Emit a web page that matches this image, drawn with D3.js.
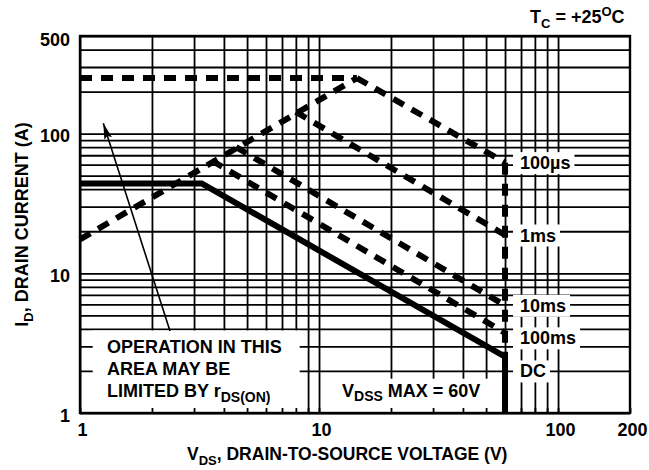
<!DOCTYPE html>
<html>
<head>
<meta charset="utf-8">
<script src="https://cdn.jsdelivr.net/npm/d3@7"></script>
<style>
  body { margin: 0; background: #fff; }
  svg text { font-family: "Liberation Sans", Arial, Helvetica, sans-serif; font-weight: bold; fill: #000; }
</style>
</head>
<body>
<svg id="chart" width="649" height="470"></svg>
<script>
// tick labels
const xTickLabels = [1, 10, 100, 200];
const yTickLabels = [1, 10, 100, 500];

// safe operating area boundaries (volts, amps)
const rdsV = [1, 14.4], rdsI = [17.5, 250];
const idmV = [1, 14.4], idmI = [250, 250];
const us100V = [14.4, 60], us100I = [250, 62];
const ms1V = [8.0, 60], ms1I = [143, 18.8];
const ms10V = [4.5, 60], ms10I = [80, 5.9];
const ms100V = [3.56, 60], ms100I = [64, 3.75];
const vdssV = [60, 60], vdssI = [62, 2.53];
const dcV = [1, 3.23, 60, 60], dcI = [44, 44, 2.53, 1];

const curveNames = ['100\u00b5s', '1ms', '10ms', '100ms', 'DC'];
const curveLabelI = [62, 18.8, 5.9, 3.45, 2.0];

const margin = { top: 36, right: 19, bottom: 57, left: 80 },
  width = 649 - margin.left - margin.right,
  height = 470 - margin.top - margin.bottom;

const x = d3.scaleLog().domain([1, 200]).range([0, width]);
const y = d3.scaleLog().domain([1, 500]).range([height, 0]);

const svg = d3.select('#chart')
  .append('g')
  .attr('transform', 'translate(' + margin.left + ',' + margin.top + ')');

// grid
svg.append('g')
  .attr('transform', 'translate(0,' + height + ')')
  .call(d3.axisBottom(x).tickValues(x.ticks().filter(d => d <= 100)).tickSize(-height).tickFormat(''))
  .call(g => g.select('.domain').remove())
  .selectAll('line').attr('stroke', '#000').attr('stroke-width', 1.8);

svg.append('g')
  .call(d3.axisLeft(y).tickValues(y.ticks()).tickSize(-width).tickFormat(''))
  .call(g => g.select('.domain').remove())
  .selectAll('line').attr('stroke', '#000').attr('stroke-width', 1.8);

// white boxes that hide the grid
const boxes = svg.append('g');
boxes.append('rect')
  .attr('x', x(1.13)).attr('y', y(3.9))
  .attr('width', x(8.3) - x(1.13)).attr('height', y(1) - y(3.9))
  .attr('fill', '#fff');
boxes.append('rect')
  .attr('x', x(10.3)).attr('y', y(1.76))
  .attr('width', x(59) - x(10.3)).attr('height', y(1) - y(1.76))
  .attr('fill', '#fff');

// minor ticks along the bottom, visible inside the boxes
svg.append('g')
  .attr('transform', 'translate(0,' + height + ')')
  .call(d3.axisBottom(x).tickValues(x.ticks()).tickSize(-5).tickFormat(''))
  .call(g => g.select('.domain').remove())
  .selectAll('line').attr('stroke', '#000').attr('stroke-width', 1.8);

// frame
svg.append('rect')
  .attr('width', width).attr('height', height)
  .attr('fill', 'none').attr('stroke', '#000').attr('stroke-width', 2.4);

// boundary lines
const line = d3.line().x(d => x(d[0])).y(d => y(d[1]));
const pts = (vs, is) => vs.map((v, i) => [v, is[i]]);

const dashed = [
  pts(rdsV, rdsI), pts(idmV, idmI), pts(us100V, us100I),
  pts(ms1V, ms1I), pts(ms10V, ms10I), pts(ms100V, ms100I), pts(vdssV, vdssI)
];
svg.append('g').selectAll('path')
  .data(dashed)
  .join('path')
  .attr('d', line)
  .attr('fill', 'none')
  .attr('stroke', '#000')
  .attr('stroke-width', 6)
  .attr('stroke-dasharray', '12,9');

svg.append('path')
  .datum(pts(dcV, dcI))
  .attr('d', line)
  .attr('fill', 'none')
  .attr('stroke', '#000')
  .attr('stroke-width', 6)
  .attr('stroke-linejoin', 'miter');

// curve labels on white patches
const labels = svg.append('g');
curveNames.forEach((name, i) => {
  const t = labels.append('text')
    .attr('x', x(60) + 15)
    .attr('y', y(curveLabelI[i]))
    .attr('dy', '0.36em')
    .attr('font-size', 18)
    .text(name);
  const b = t.node().getBBox();
  labels.insert('rect', 'text')
    .attr('x', b.x - 7).attr('y', b.y - 1)
    .attr('width', b.width + 11).attr('height', b.height + 2)
    .attr('fill', '#fff');
});

// note box text
const note = svg.append('text').attr('font-size', 18);
note.append('tspan').attr('x', 27).attr('y', 317).text('OPERATION IN THIS');
note.append('tspan').attr('x', 27).attr('y', 339).text('AREA MAY BE');
const l3 = note.append('tspan').attr('x', 27).attr('y', 361).text('LIMITED BY r');
note.append('tspan').attr('dy', 5).attr('font-size', 14).text('DS(ON)');

// arrow
svg.append('defs').append('marker')
  .attr('id', 'head')
  .attr('markerUnits', 'userSpaceOnUse')
  .attr('viewBox', '0 0 16 8')
  .attr('refX', 16).attr('refY', 4)
  .attr('markerWidth', 16).attr('markerHeight', 8)
  .attr('orient', 'auto')
  .append('path')
  .attr('d', 'M0,0 L16,4 L0,8 L3,4 Z')
  .attr('fill', '#000');

svg.append('line')
  .attr('x1', 90).attr('y1', 295)
  .attr('x2', 23.3).attr('y2', 87.3)
  .attr('stroke', '#000').attr('stroke-width', 1.6)
  .attr('marker-end', 'url(#head)');

// VDSS note
const vd = svg.append('text').attr('x', 262).attr('y', 361).attr('font-size', 18);
vd.append('tspan').text('V');
vd.append('tspan').attr('dy', 4).attr('font-size', 14).text('DSS');
vd.append('tspan').attr('dy', -4).text(' MAX = 60V');

// tick labels
svg.append('g')
  .attr('transform', 'translate(0,' + height + ')')
  .call(d3.axisBottom(x).tickValues(xTickLabels).tickSize(0).tickPadding(10).tickFormat(d3.format('d')))
  .call(g => g.select('.domain').remove())
  .selectAll('text')
  .attr('font-size', 18)
  .attr('dx', 2);

svg.append('g')
  .call(d3.axisLeft(y).tickValues(yTickLabels).tickSize(0).tickPadding(10).tickFormat(d3.format('d')))
  .call(g => g.select('.domain').remove())
  .selectAll('text')
  .attr('font-size', 18)
  .attr('dy', (d, i) => d === 500 ? '0.55em' : '0.45em');

// axis titles
const xt = svg.append('text').attr('x', 107).attr('y', height + 47).attr('font-size', 17.5);
xt.append('tspan').text('V');
xt.append('tspan').attr('dy', 5).attr('font-size', 13).text('DS');
xt.append('tspan').attr('dy', -5).text(', DRAIN-TO-SOURCE VOLTAGE (V)');

const yt = svg.append('text')
  .attr('transform', 'translate(-52,' + (height / 2) + ') rotate(-90)')
  .attr('text-anchor', 'middle')
  .attr('font-size', 18);
yt.append('tspan').text('I');
yt.append('tspan').attr('dy', 5).attr('font-size', 13).text('D');
yt.append('tspan').attr('dy', -5).text(', DRAIN CURRENT (A)');

// condition
const tc = svg.append('text').attr('x', 450).attr('y', -13).attr('font-size', 18);
tc.append('tspan').text('T');
tc.append('tspan').attr('dy', 5).attr('font-size', 13).text('C');
tc.append('tspan').attr('dy', -5).text(' = +25');
tc.append('tspan').attr('dy', -7).attr('font-size', 13).text('O');
tc.append('tspan').attr('dy', 7).text('C');
</script>
</body>
</html>
